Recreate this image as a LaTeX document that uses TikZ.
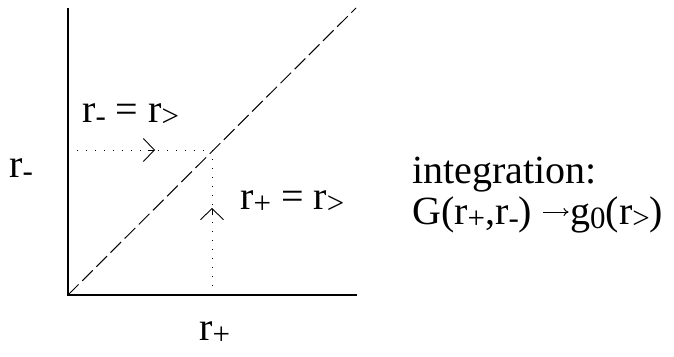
\documentclass[tikz,border=0pt]{standalone}
\usepackage{fontspec}
\setmainfont{Liberation Serif}
\usetikzlibrary{arrows.meta}
\newcommand{\sub}[1]{\raisebox{-4pt}{\fontsize{31}{31}\selectfont #1}}

\begin{document}
\begin{tikzpicture}[x=1pt, y=-1pt, every node/.style={font=\fontsize{40}{48}\selectfont, inner sep=0pt},
  axis/.style={line width=1.1pt},
  diag/.style={line width=1pt, dash pattern=on 15pt off 5pt},
  guide/.style={line width=1pt, dash pattern=on 1pt off 8pt},
  chev/.style={line width=0.9pt, -{Straight Barb[length=11pt, width=23pt]}},
  maps/.style={line width=1pt, -{To[length=5pt, width=8pt]}, shorten >=1.5pt}]
  \useasboundingbox (0,0) rectangle (674,356);
  \coordinate (O) at (68,295);
  \coordinate (ytop) at (68,8);
  \coordinate (xend) at (357,295);
  \coordinate (dend) at (356,8);
  \coordinate (P) at (212,150);
  \coordinate (L) at (68,150);
  \coordinate (B) at (212,295);
  \coordinate (hmid) at (155,150);
  \coordinate (vmid) at (212,208);
  % axes
  \draw[axis] (ytop) -- (O) -- (xend);
  \draw[diag] (O) -- (dend);
  % guides
  \draw[guide] (L) -- (P) -- (B);
  \draw[chev] (L) ++(80,0) -- (hmid);
  \draw[chev] (B) ++(0,-80) -- (vmid);
  % labels
  \node[anchor=base west] (eqm) at (82,122) {r\sub{-} = r\sub{>}};
  \node[anchor=base west] (eqp) at (240,209) {r\sub{+} = r\sub{>}};
  \node[anchor=base west] (ym) at (9,177) {r\sub{-}};
  \node[anchor=base west] (xp) at (199,340) {r\sub{+}};
  \node[anchor=base west] (int) at (412,183) {integration:};
  \node[anchor=base west] (lhs) at (412,224) {G(r\sub{+},r\sub{-})};
  \node[anchor=base west] (rhs) at (570,224) {g\sub{0}(r\sub{>})};
  \coordinate (mapstart) at (543,212);
  \draw[maps] (mapstart) -- (rhs.west |- mapstart);
\end{tikzpicture}
\end{document}
